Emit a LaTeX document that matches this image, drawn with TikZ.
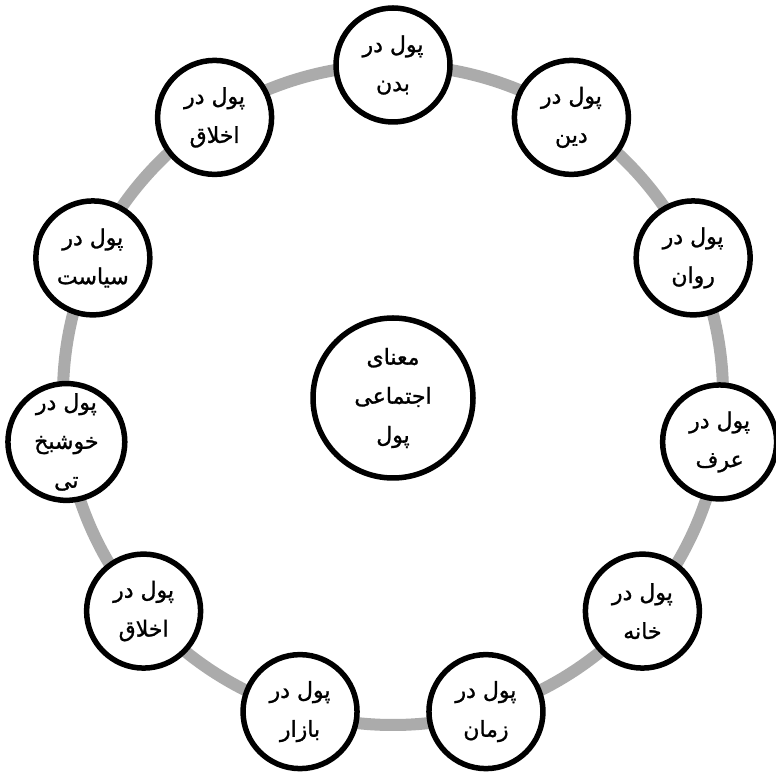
\documentclass[tikz,border=0pt]{standalone}
\usepackage{fontspec}
\newfontfamily\arabicfont[Script=Arabic,FakeBold=1.2]{DejaVu Sans}
\TeXXeTstate=1
\usetikzlibrary{shadows,calc}
\newcommand{\rl}[1]{\beginR#1\endR}
\tikzset{
  ringline/.style={line width=12pt, draw=black!33},
  topic/.style={circle, draw=black, line width=5.5pt, fill=white, minimum size=114pt, inner sep=0pt, align=center,
    font=\arabicfont\fontsize{22}{39}\selectfont,
    drop shadow={opacity=0.25, shadow xshift=1.5pt, shadow yshift=-1.5pt}},
  hub/.style={topic, minimum size=160pt}
}
\begin{document}
\begin{tikzpicture}[x=1pt,y=1pt]
\useasboundingbox (0,0) rectangle (776,776);
\fill[white] (0,0) rectangle (776,776);
\coordinate (o) at (393,381);
\draw[ringline] (o) circle (330pt);
\node[hub] (c) at (393,378) {\rl{معنای}\\\rl{اجتماعی}\\\rl{پول}};
\foreach \i/\t [count=\k from 0] in {n1/{\rl{پول در}\\\rl{بدن}},
  n2/{\rl{پول در}\\\rl{دین}},
  n3/{\rl{پول در}\\\rl{روان}},
  n4/{\rl{پول در}\\\rl{عرف}},
  n5/{\rl{پول در}\\\rl{خانه}},
  n6/{\rl{پول در}\\\rl{زمان}},
  n7/{\rl{پول در}\\\rl{بازار}},
  n8/{\rl{پول در}\\\rl{اخلاق}},
  n9/{\rl{پول در}\\\rl{خوشبخ}\\\rl{تی}},
  n10/{\rl{پول در}\\\rl{سیاست}},
  n11/{\rl{پول در}\\\rl{اخلاق}}}
{
  \node[topic] (\i) at ($(o)+({90-\k*360/11}:330pt)$) {\t};
}
\end{tikzpicture}
\end{document}
